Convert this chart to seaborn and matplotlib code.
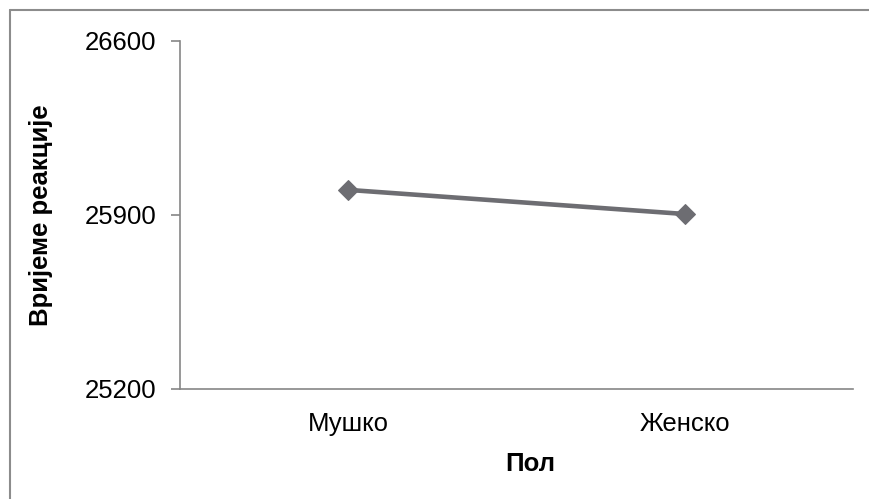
import matplotlib
matplotlib.use('Agg')
import matplotlib.pyplot as plt
from matplotlib.lines import Line2D
import seaborn as sns
import pandas as pd

# Data
genders = ['Мушко', 'Женско']
reaction_time = [26001, 25904]
y_ticks = [25200, 25900, 26600]

df = pd.DataFrame({'Пол': genders, 'Вријеме реакције': reaction_time})

sns.set_style('white')
plt.rcParams['font.family'] = ['Liberation Sans', 'DejaVu Sans']

fig = plt.figure(figsize=(8.69, 4.99), dpi=100)
ax = fig.add_axes([180 / 869, 1 - 389 / 499, (853 - 180) / 869, (389 - 41) / 499])

line_color = '#6d6d72'
sns.lineplot(data=df, x='Пол', y='Вријеме реакције', ax=ax, sort=False,
             color=line_color, linewidth=3.3, marker='D', markersize=10,
             markeredgecolor=line_color, markerfacecolor=line_color)

ax.set_xlim(-0.5, 1.5)
ax.set_ylim(y_ticks[0], y_ticks[-1])
ax.set_yticks(y_ticks)
ax.set_yticklabels([str(v) for v in y_ticks])

for side in ['top', 'right']:
    ax.spines[side].set_visible(False)
for side in ['left', 'bottom']:
    ax.spines[side].set_color('#868686')
    ax.spines[side].set_linewidth(1.2)

ax.tick_params(axis='y', which='major', left=True, length=6.5, width=1.2,
               color='#868686', pad=10.5, labelsize=18.5, labelcolor='black')
ax.tick_params(axis='x', which='major', bottom=False, pad=13,
               labelsize=18.5, labelcolor='black')

ax.set_xlabel('')
ax.set_ylabel('')
fig.text(530 / 869, 1 - 464 / 499, 'Пол', ha='center', va='center',
         fontsize=18.5, fontweight='bold', color='black')
fig.text(41 / 869, 1 - 215 / 499, 'Вријеме реакције', ha='center', va='center',
         rotation=90, fontsize=18.5, fontweight='bold', color='black')

# outer chart border (only top and left fall inside the image)
border = '#8c8c8c'
fig.add_artist(Line2D([10 / 869, 1.02], [1 - 10 / 499, 1 - 10 / 499],
                      transform=fig.transFigure, color=border, linewidth=1.5))
fig.add_artist(Line2D([10 / 869, 10 / 869], [1 - 10 / 499, -0.02],
                      transform=fig.transFigure, color=border, linewidth=1.5))

fig.savefig('out.png', dpi=100)
